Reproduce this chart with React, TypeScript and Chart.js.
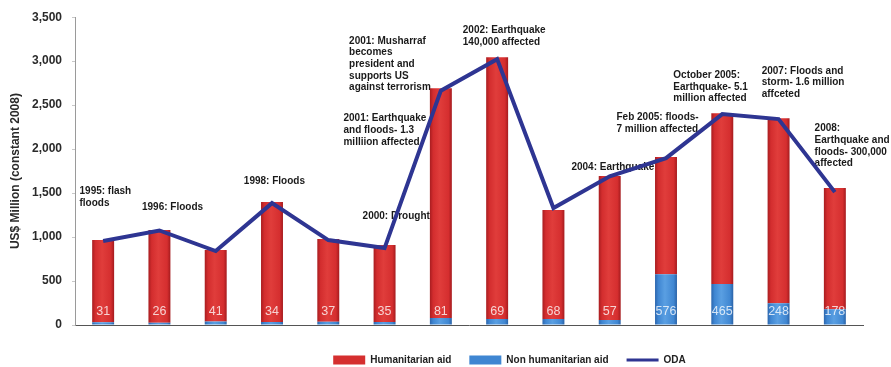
import React, { useEffect, useRef } from 'react';
import { Chart, registerables } from 'chart.js';

Chart.register(...registerables);

// ---------- data ----------
const years = ['1995', '1996', '1997', '1998', '1999', '2000', '2001', '2002', '2003', '2004', '2005', '2006', '2007', '2008'];
const nonHumanitarianAid = [31, 26, 41, 34, 37, 35, 81, 69, 68, 57, 576, 465, 248, 178];
const humanitarianAid = [935, 1054, 811, 1364, 940, 874, 2612, 2976, 1239, 1636, 1333, 1944, 2104, 1379];
const oda = [955, 1075, 841, 1386, 966, 875, 2665, 3023, 1330, 1690, 1898, 2398, 2341, 1511];
const barLabels = ['31', '26', '41', '34', '37', '35', '81', '69', '68', '57', '576', '465', '248', '178'];
const seriesNames = ['Humanitarian aid', 'Non humanitarian aid', 'ODA'];
const yAxisTitle = 'US$ Million (constant 2008)';

// event notes (text lines)
const noteTexts: string[][] = [
  ['1995: flash', 'floods'],
  ['1996: Floods'],
  ['1998: Floods'],
  ['2000: Drought'],
  ['2001: Musharraf', 'becomes', 'president and', 'supports US', 'against terrorism'],
  ['2001: Earthquake', 'and floods- 1.3', 'milliion affected'],
  ['2002: Earthquake', '140,000 affected'],
  ['2004: Earthquake'],
  ['Feb 2005: floods-', '7 million affected'],
  ['October 2005:', 'Earthquake- 5.1', 'million affected'],
  ['2007: Floods and', 'storm- 1.6 million', 'affceted'],
  ['2008:', 'Earthquake and', 'floods- 300,000', 'affected'],
];
// note anchors: category index (left edge of text) and value (first line centre)
const noteAnchorIndex = [-0.42, 0.69, 2.5, 4.61, 4.37, 4.27, 6.39, 8.32, 9.12, 10.13, 11.7, 12.64];
const noteAnchorValue = [1523, 1344, 1636, 1239, 3230, 2349, 3352, 1799, 2360, 2841, 2890, 2235];

// ---------- styles ----------
const FONT = "'Liberation Sans', Arial, Helvetica, sans-serif";
const RED = '#d52f2f';
const BLUE = '#3f86d2';
const LINE = '#2e3592';
const BAR_PCT = 0.39;
const redStops = ['#a81d20', '#d32d2e', '#e03d3b', '#d52e2f', '#a51b1e'];
const blueStops = ['#2c66ad', '#3f86d2', '#5a9fe2', '#4087d2', '#2a62a6'];

const barFill = (stops: string[], flat: string) => (c: any) => {
  const chart = c.chart;
  const xs = chart.scales && chart.scales.x;
  if (!chart.chartArea || !xs || c.dataIndex == null || c.type !== 'data') return flat;
  const x = xs.getPixelForValue(c.dataIndex);
  const half = (xs.width / years.length) * BAR_PCT / 2;
  const g = chart.ctx.createLinearGradient(x - half, 0, x + half, 0);
  g.addColorStop(0, stops[0]);
  g.addColorStop(0.15, stops[1]);
  g.addColorStop(0.45, stops[2]);
  g.addColorStop(0.85, stops[3]);
  g.addColorStop(1, stops[4]);
  return g;
};

const notesPlugin = {
  id: 'eventNotes',
  beforeDatasetsDraw(chart: any) {
    const { ctx, scales } = chart;
    const xs = scales.x;
    const ys = scales.y;
    const step = xs.getPixelForValue(1) - xs.getPixelForValue(0);
    ctx.save();
    ctx.font = `bold 10px ${FONT}`;
    ctx.fillStyle = '#1a1a1a';
    ctx.textAlign = 'left';
    ctx.textBaseline = 'middle';
    noteTexts.forEach((lines, i) => {
      const x = xs.getPixelForValue(0) + noteAnchorIndex[i] * step;
      const y0 = ys.getPixelForValue(noteAnchorValue[i]);
      lines.forEach((t, k) => ctx.fillText(t, x, y0 + k * 11.7));
    });
    ctx.restore();
  },
};

const barLabelPlugin = {
  id: 'barLabels',
  afterDatasetsDraw(chart: any) {
    const { ctx, scales } = chart;
    const meta = chart.getDatasetMeta(0);
    const y = scales.y.getPixelForValue(0) - 13;
    ctx.save();
    ctx.font = `12.5px ${FONT}`;
    ctx.fillStyle = 'rgba(255,255,255,0.78)';
    ctx.textAlign = 'center';
    ctx.textBaseline = 'middle';
    meta.data.forEach((bar: any, i: number) => {
      ctx.fillText(barLabels[i], bar.x, y);
    });
    ctx.restore();
  },
};

const legendShiftPlugin = {
  id: 'legendShift',
  afterLayout(chart: any) {
    const l = chart.legend;
    if (!l) return;
    l.left += 78;
    l.right += 78;
    l.top += 8;
    l.bottom += 8;
  },
};

export default function App() {
  const ref = useRef<HTMLCanvasElement | null>(null);

  useEffect(() => {
    if (!ref.current) return;
    const legendColors = [RED, BLUE, LINE];
    const chart = new Chart(ref.current, {
      type: 'bar',
      data: {
        labels: years,
        datasets: [
          {
            type: 'bar',
            label: seriesNames[1],
            data: nonHumanitarianAid,
            backgroundColor: barFill(blueStops, BLUE) as any,
            barPercentage: BAR_PCT,
            categoryPercentage: 1,
            order: 2,
          },
          {
            type: 'bar',
            label: seriesNames[0],
            data: humanitarianAid,
            backgroundColor: barFill(redStops, RED) as any,
            barPercentage: BAR_PCT,
            categoryPercentage: 1,
            order: 2,
          },
          {
            type: 'line',
            label: seriesNames[2],
            data: oda,
            borderColor: LINE,
            backgroundColor: LINE,
            borderWidth: 4,
            pointRadius: 0,
            tension: 0,
            stack: 'oda',
            order: 0,
            borderJoinStyle: 'miter',
          } as any,
        ],
      },
      options: {
        animation: false,
        responsive: false,
        maintainAspectRatio: false,
        layout: { padding: { left: 0, right: 28, top: 17, bottom: 0 } },
        plugins: {
          tooltip: { enabled: false },
          legend: {
            position: 'bottom',
            labels: {
              usePointStyle: true,
              pointStyleWidth: 32,
              boxHeight: 9,
              padding: 18,
              color: '#222',
              font: { family: FONT, size: 10, weight: 'bold' },
              generateLabels: () =>
                [0, 1, 2].map((i) => ({
                  text: seriesNames[i],
                  fillStyle: legendColors[i],
                  strokeStyle: legendColors[i],
                  lineWidth: i === 2 ? 3 : 0,
                  pointStyle: i === 2 ? 'line' : 'rect',
                  hidden: false,
                  fontColor: '#222',
                  datasetIndex: i === 0 ? 1 : i === 1 ? 0 : 2,
                })) as any,
            },
          },
        },
        scales: {
          x: {
            stacked: true,
            grid: { display: false, drawTicks: false },
            border: { display: true, color: '#555', width: 1 },
            ticks: {
              padding: 5,
              color: '#222',
              font: { family: FONT, size: 10, weight: 'bold' },
              maxRotation: 0,
              autoSkip: false,
            },
            afterFit: (s: any) => {
              s.height = 4;
            },
          },
          y: {
            stacked: true,
            min: 0,
            max: 3500,
            grid: { display: true, drawOnChartArea: false, drawTicks: true, tickLength: 3, color: '#c8c8c8' },
            border: { display: true, color: '#9a9a9a', width: 1 },
            ticks: {
              stepSize: 500,
              padding: 10,
              color: '#2a2a2a',
              font: { family: FONT, size: 12, weight: 'bold' },
            },
            title: {
              display: true,
              text: yAxisTitle,
              color: '#2a2a2a',
              font: { family: FONT, size: 12, weight: 'bold' },
              padding: { top: 8, bottom: 0 },
            },
            afterFit: (s: any) => {
              s.width = 75;
            },
          },
        },
      },
      plugins: [notesPlugin, barLabelPlugin, legendShiftPlugin],
    });
    return () => chart.destroy();
  }, []);

  return (
    <div style={{ position: 'fixed', left: 0, top: 0, width: 891, height: 367, background: '#fff' }}>
      <canvas ref={ref} width={891} height={367} style={{ width: 891, height: 367, display: 'block' }} />
    </div>
  );
}
